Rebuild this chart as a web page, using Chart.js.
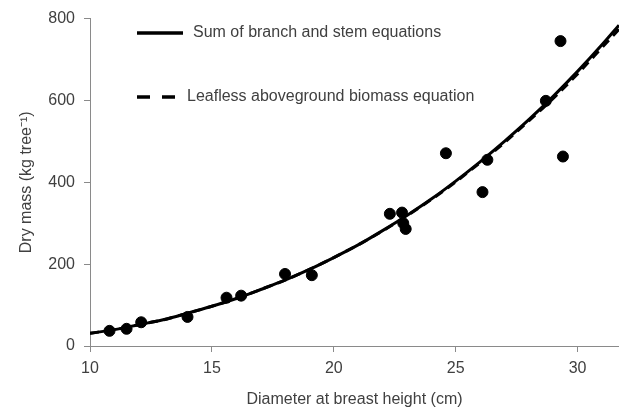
<!DOCTYPE html>
<html>
<head>
<meta charset="utf-8">
<script src="https://cdn.jsdelivr.net/npm/chart.js@4/dist/chart.umd.min.js"></script>
<style>
  html, body { margin: 0; padding: 0; background: #ffffff; }
  #wrap { width: 619px; height: 409px; position: relative; }
</style>
</head>
<body>
<div id="wrap"><canvas id="c" width="619" height="409"></canvas></div>
<script>
// Measured trees: diameter at breast height (cm) and dry mass (kg per tree)
const treeDbh  = [10.8, 11.5, 12.1, 14.0, 15.6, 16.2, 18.0, 19.1, 22.3, 22.8, 22.85, 22.95, 24.6, 26.1, 26.3, 28.7, 29.3, 29.4];
const treeMass = [37, 42, 58, 71, 118, 123, 176, 173, 323, 326, 300, 286, 471, 376, 455, 599, 745, 463];

// Fitted curves, sampled along the diameter range
const curveDbh       = [10, 11, 12, 13, 14, 15, 16, 17, 18, 19, 20, 21, 22, 23, 24, 25, 26, 27, 28, 29, 30, 31, 31.7];
const branchStemMass = [31, 40, 52, 64, 80, 97, 116, 138, 161, 187, 216, 247, 282, 319, 359, 403, 450, 500, 553, 610, 671, 736, 784];
const leaflessMass   = [31, 40, 52, 64, 80, 97, 116, 138, 161, 187, 216, 247, 281, 318, 358, 401, 448, 497, 550, 605, 665, 729, 774];

// Axis tick values
const xTicks = [10, 15, 20, 25, 30];
const yTicks = [0, 200, 400, 600, 800];

const textColor = '#404040';
const axisColor = '#8a8a8a';
const fontFamily = '"Liberation Sans", Arial, sans-serif';

const toXY = (xs, ys) => xs.map((x, i) => ({ x: x, y: ys[i] }));

// Legend drawn inside the plot area: a line sample followed by the label
const insideLegend = {
  id: 'insideLegend',
  afterDraw(chart) {
    const ctx = chart.ctx;
    const items = [
      { ds: chart.data.datasets[1], y: 33, x0: 137, x1: 183, tx: 193 },
      { ds: chart.data.datasets[2], y: 97, x0: 137, x1: 175, tx: 187 }
    ];
    ctx.save();
    items.forEach(it => {
      ctx.beginPath();
      ctx.strokeStyle = '#000';
      ctx.lineWidth = 3.5;
      ctx.lineCap = 'butt';
      ctx.setLineDash(it.ds.borderDash && it.ds.borderDash.length ? [13, 12] : []);
      ctx.moveTo(it.x0, it.y);
      ctx.lineTo(it.x1, it.y);
      ctx.stroke();
      ctx.setLineDash([]);
      ctx.fillStyle = textColor;
      ctx.font = '16px ' + fontFamily;
      ctx.textAlign = 'left';
      ctx.textBaseline = 'middle';
      ctx.fillText(it.ds.label, it.tx, it.y);
    });
    ctx.restore();
  }
};

new Chart(document.getElementById('c'), {
  type: 'scatter',
  data: {
    datasets: [
      {
        label: 'Observed',
        data: toXY(treeDbh, treeMass),
        backgroundColor: '#000',
        borderColor: '#000',
        pointRadius: 5.5,
        pointHoverRadius: 5.5,
        order: 3
      },
      {
        type: 'line',
        label: 'Sum of branch and stem equations',
        data: toXY(curveDbh, branchStemMass),
        borderColor: '#000',
        borderWidth: 3,
        pointRadius: 0,
        fill: false,
        cubicInterpolationMode: 'monotone',
        order: 2
      },
      {
        type: 'line',
        label: 'Leafless aboveground biomass equation',
        data: toXY(curveDbh, leaflessMass),
        borderColor: '#000',
        borderWidth: 3,
        borderDash: [9, 6],
        pointRadius: 0,
        fill: false,
        cubicInterpolationMode: 'monotone',
        order: 1
      }
    ]
  },
  options: {
    responsive: false,
    animation: false,
    layout: { autoPadding: false, padding: { top: 15, right: 0, left: 0, bottom: 0 } },
    plugins: {
      legend: { display: false },
      tooltip: { enabled: false }
    },
    scales: {
      x: {
        type: 'linear',
        min: 10,
        max: 31.7,
        afterFit(scale) { scale.height = 63; scale.paddingLeft = 0; scale.paddingRight = 0; },
        afterBuildTicks(scale) { scale.ticks = xTicks.map(v => ({ value: v })); },
        border: { display: true, color: axisColor, width: 1 },
        grid: { display: true, drawOnChartArea: false, drawTicks: true, tickLength: 6, color: axisColor },
        ticks: { color: textColor, font: { family: fontFamily, size: 16 }, padding: 7, maxRotation: 0 },
        title: {
          display: true,
          text: 'Diameter at breast height (cm)',
          color: textColor,
          font: { family: fontFamily, size: 16 },
          padding: { top: 9, bottom: 0 }
        }
      },
      y: {
        type: 'linear',
        min: 0,
        max: 800,
        afterFit(scale) { scale.width = 90; },
        afterBuildTicks(scale) { scale.ticks = yTicks.map(v => ({ value: v })); },
        border: { display: true, color: axisColor, width: 1 },
        grid: { display: true, drawOnChartArea: false, drawTicks: true, tickLength: 6, color: axisColor },
        ticks: { color: textColor, font: { family: fontFamily, size: 16 }, padding: 9 },
        title: {
          display: true,
          text: 'Dry mass (kg tree\u207B\u00B9)',
          color: textColor,
          font: { family: fontFamily, size: 16 },
          padding: { top: 17, bottom: 0 }
        }
      }
    }
  },
  plugins: [insideLegend]
});
</script>
</body>
</html>
